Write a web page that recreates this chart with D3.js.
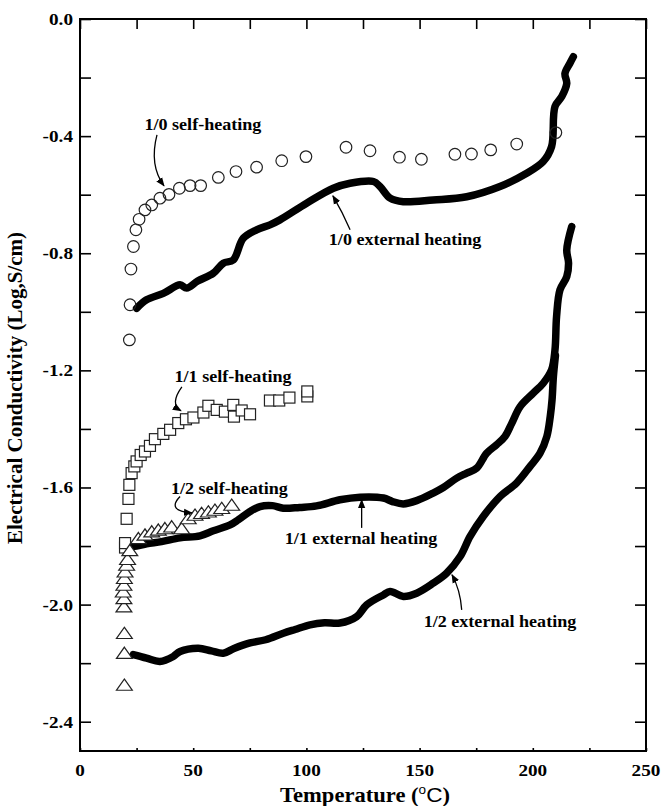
<!DOCTYPE html>
<html><head><meta charset="utf-8">
<script src="https://cdn.jsdelivr.net/npm/d3@7"></script>
<style>body{margin:0;background:#fff}svg{display:block}text{font-family:"Liberation Serif","Times New Roman",serif;font-weight:bold}</style>
</head><body>
<svg id="c" width="661" height="806"></svg>
<script>
// ---- Data (Temperature in °C, log10 conductivity) ----
const xTicks = [0, 50, 100, 150, 200, 250];
const yTicks = [0.0, -0.4, -0.8, -1.2, -1.6, -2.0, -2.4];
const yTickLabels = ["0.0", "-0.4", "-0.8", "-1.2", "-1.6", "-2.0", "-2.4"];

const selfHeating10 = [[21.8,-1.096],[22.1,-0.976],[22.5,-0.854],[23.6,-0.777],[24.7,-0.720],[26.1,-0.684],[28.7,-0.652],[31.7,-0.635],[35.3,-0.612],[39.3,-0.599],[43.9,-0.578],[48.6,-0.569],[53.3,-0.569],[61.1,-0.541],[68.9,-0.521],[78,-0.506],[89.1,-0.484],[99.8,-0.470],[117.5,-0.438],[128.1,-0.450],[141.1,-0.472],[150.8,-0.479],[165.6,-0.462],[172.9,-0.461],[181.4,-0.447],[192.9,-0.427],[210.2,-0.388]];

const selfHeating11 = [[19.9,-1.805],[19.9,-1.790],[20.6,-1.707],[21.4,-1.639],[21.8,-1.591],[22.8,-1.551],[24,-1.528],[25,-1.511],[26.8,-1.489],[28.7,-1.477],[30.9,-1.458],[33.1,-1.435],[36.8,-1.417],[39.8,-1.403],[43.4,-1.380],[46.8,-1.367],[50.1,-1.361],[54.5,-1.344],[56.7,-1.321],[60.4,-1.335],[64,-1.341],[67.7,-1.318],[68,-1.358],[71.4,-1.337],[75.1,-1.350],[83.9,-1.303],[88,-1.303],[92.5,-1.293],[100.4,-1.289],[100.4,-1.272]];

const selfHeating12 = [[19.6,-2.280],[19.6,-2.171],[19.6,-2.103],[19.4,-2.012],[19.4,-1.984],[19.1,-1.961],[19.4,-1.938],[19.6,-1.915],[19.9,-1.893],[20.6,-1.870],[21,-1.850],[22,-1.820],[25.8,-1.779],[28.7,-1.767],[31.7,-1.756],[34.6,-1.750],[37.5,-1.745],[40.5,-1.739],[44.9,-1.745],[47.8,-1.711],[50.8,-1.699],[53.7,-1.693],[56.7,-1.688],[59.6,-1.682],[62.6,-1.676],[67,-1.665]];

const external10 = [[25,-0.988],[29.4,-0.959],[36.8,-0.937],[44.2,-0.908],[47.1,-0.919],[52,-0.895],[58.9,-0.868],[63.3,-0.834],[67.7,-0.823],[72.1,-0.749],[78,-0.720],[83.9,-0.703],[88.3,-0.686],[100.1,-0.629],[111.9,-0.578],[119.3,-0.561],[129.6,-0.555],[132.5,-0.572],[137,-0.612],[142.8,-0.624],[156,-0.618],[170.8,-0.607],[185.5,-0.572],[197.3,-0.527],[204.6,-0.487],[208.3,-0.436],[209.8,-0.299],[212.8,-0.265],[215,-0.220],[214.2,-0.186],[216.4,-0.151],[217.9,-0.129]];

const external11 = [[20.6,-1.800],[25,-1.800],[29.4,-1.792],[36,-1.785],[44.2,-1.772],[53,-1.765],[58.9,-1.748],[66.3,-1.728],[70,-1.710],[75.1,-1.682],[79.5,-1.665],[85,-1.662],[89.8,-1.671],[97,-1.668],[104.5,-1.663],[114.8,-1.642],[123.7,-1.633],[134,-1.636],[138,-1.648],[142.8,-1.656],[148.7,-1.645],[156,-1.619],[160.5,-1.600],[166.4,-1.568],[170.8,-1.551],[175.2,-1.534],[179.6,-1.483],[184,-1.454],[187.7,-1.426],[190.7,-1.381],[194.4,-1.324],[200.2,-1.278],[204.6,-1.244],[208.3,-1.198],[209.8,-1.130],[210.5,-1.016],[212,-0.925],[215,-0.880],[215.8,-0.834],[215,-0.789],[217.2,-0.709]];

const external12 = [[23.5,-2.171],[29.4,-2.183],[35.3,-2.194],[41.2,-2.177],[44.2,-2.160],[52.3,-2.149],[58,-2.158],[63.3,-2.166],[68,-2.150],[75.1,-2.131],[82,-2.120],[89.8,-2.098],[95,-2.085],[101.6,-2.069],[108,-2.062],[114.8,-2.063],[122.2,-2.041],[126.6,-2.001],[134,-1.967],[137,-1.955],[142.8,-1.972],[148.7,-1.961],[156,-1.927],[161.9,-1.893],[167.9,-1.836],[172.3,-1.767],[178.1,-1.699],[185.5,-1.631],[192.8,-1.585],[198.8,-1.528],[203.2,-1.483],[206.2,-1.426],[207.7,-1.358],[208.5,-1.301],[209.1,-1.221],[210.0,-1.150]];

const labelTexts = ["1/0 self-heating", "1/0 external heating", "1/1 self-heating", "1/2 self-heating", "1/1 external heating", "1/2 external heating"];

// ---- Layout ----
const W = 661, H = 806;
const L = 80, R = 646, T = 19, B = 751;
const SX = 1.13; // horizontal stretch of the original lettering
// annotation anchors (data coords: temperature, log conductivity)
const labelPos = [[54.3,-0.379],[143.6,-0.772],[67.6,-1.239],[66.0,-1.622],[124.1,-1.792],[185.5,-2.076]];
// arrows: start, control, end (data coords)
const arrowPos = [
  [[34.0,-0.396],[30.5,-0.500],[37.1,-0.570]],
  [[119.3,-0.720],[116.0,-0.660],[111.7,-0.604]],
  [[45.0,-1.256],[39.5,-1.315],[44.6,-1.338]],
  [[44.2,-1.631],[38.0,-1.680],[49.5,-1.687]],
  [[124.4,-1.738],[124.4,-1.690],[124.4,-1.642]],
  [[168.6,-2.018],[168.0,-1.950],[164.3,-1.898]]
];

const svg = d3.select("#c");
const x = d3.scaleLinear().domain([0, 250]).range([L, R]);
const y = d3.scaleLinear().domain([-2.5, 0]).range([B, T]);

svg.append("defs").append("marker")
  .attr("id","ah").attr("viewBox","0 0 10 10").attr("refX",9).attr("refY",5)
  .attr("markerWidth",9).attr("markerHeight",9).attr("markerUnits","userSpaceOnUse")
  .attr("orient","auto")
  .append("path").attr("d","M0,1 L10,5 L0,9 z").attr("fill","#000");

// stretched text helper: place text with anchor at (px,py)
function stext(g, px, py, str, size, anchor) {
  return g.append("text").attr("transform", `translate(${px},${py}) scale(${SX},1)`)
    .attr("text-anchor", anchor).attr("font-size", size).text(str);
}

// axes with inward ticks
const minorY = d3.range(0, 13).map(i => -i * 0.2);
const yl = d3.axisLeft(y).tickValues(minorY).tickSize(-11).tickFormat("");
const yr = d3.axisRight(y).tickValues(minorY).tickSize(-11).tickFormat("");
const xt = d3.axisTop(x).tickValues(d3.range(0, 251, 25)).tickSize(-10).tickFormat("");
const xb = d3.axisBottom(x).tickValues(d3.range(0, 251, 25)).tickSize(-3).tickFormat("");
function style(g){ g.select(".domain").remove(); g.selectAll("line").attr("stroke","#000").attr("stroke-width",1.6); }
svg.append("g").attr("transform",`translate(${L},0)`).call(yl).call(style);
svg.append("g").attr("transform",`translate(${R},0)`).call(yr).call(style);
svg.append("g").attr("transform",`translate(0,${T})`).call(xt).call(style);
svg.append("g").attr("transform",`translate(0,${B})`).call(xb).call(style);
svg.append("rect").attr("x",L).attr("y",T).attr("width",R-L).attr("height",B-T)
  .attr("fill","none").attr("stroke","#000").attr("stroke-width",2);

// tick labels
const gy = svg.append("g");
yTicks.forEach((d,i) => stext(gy, L - 7, y(d) + 6, yTickLabels[i], 17, "end"));
const gx = svg.append("g");
xTicks.forEach(d => stext(gx, x(d), B + 25, String(d), 17, "middle"));

// axis titles
svg.append("text").attr("transform",`translate(22,${(T+B)/2 + 3}) rotate(-90)`)
  .attr("text-anchor","middle").attr("font-size",21).text("Electrical Conductivity (Log,S/cm)");
const xtitle = svg.append("text").attr("transform",`translate(${(L+R)/2 + 2},802) scale(${SX},1)`)
  .attr("text-anchor","middle").attr("font-size",20);
xtitle.append("tspan").text("Temperature (");
xtitle.append("tspan").attr("font-size",12).attr("dy",-8).attr("font-family","Liberation Sans, Arial, sans-serif").attr("font-weight","normal").text("o");
xtitle.append("tspan").attr("dy",8).attr("font-family","Liberation Sans, Arial, sans-serif").attr("font-weight","normal").text("C");
xtitle.append("tspan").text(")");

// external heating thick lines
const line = d3.line().x(d => x(d[0])).y(d => y(d[1])).curve(d3.curveCatmullRom.alpha(0.5));
[external10, external11, external12].forEach(s => {
  svg.append("path").datum(s).attr("d", line).attr("fill","none")
    .attr("stroke","#000").attr("stroke-width",7.5).attr("stroke-linejoin","round").attr("stroke-linecap","round");
});

// self-heating markers
const mk = "#222";
svg.append("g").selectAll("circle").data(selfHeating10).join("circle")
  .attr("cx", d => x(d[0])).attr("cy", d => y(d[1])).attr("r",5.8)
  .attr("fill","none").attr("stroke",mk).attr("stroke-width",1.2);
svg.append("g").selectAll("rect").data(selfHeating11).join("rect")
  .attr("x", d => x(d[0]) - 5.5).attr("y", d => y(d[1]) - 5.5).attr("width",11).attr("height",11)
  .attr("fill","#fff").attr("stroke",mk).attr("stroke-width",1.2);
const tri = d3.symbol().type(d3.symbolTriangle).size(90);
svg.append("g").selectAll("path").data(selfHeating12).join("path")
  .attr("transform", d => `translate(${x(d[0])},${y(d[1])}) scale(1.1,0.9)`).attr("d", tri)
  .attr("fill","#fff").attr("stroke",mk).attr("stroke-width",1.2);

// annotations
const ga = svg.append("g");
labelTexts.forEach((t,i) => stext(ga, x(labelPos[i][0]), y(labelPos[i][1]), t, 16, "middle"));
svg.append("g").selectAll("path").data(arrowPos).join("path")
  .attr("d", d => `M${x(d[0][0])},${y(d[0][1])} Q${x(d[1][0])},${y(d[1][1])} ${x(d[2][0])},${y(d[2][1])}`)
  .attr("fill","none").attr("stroke","#000").attr("stroke-width",1.3).attr("marker-end","url(#ah)");
</script>
</body></html>
